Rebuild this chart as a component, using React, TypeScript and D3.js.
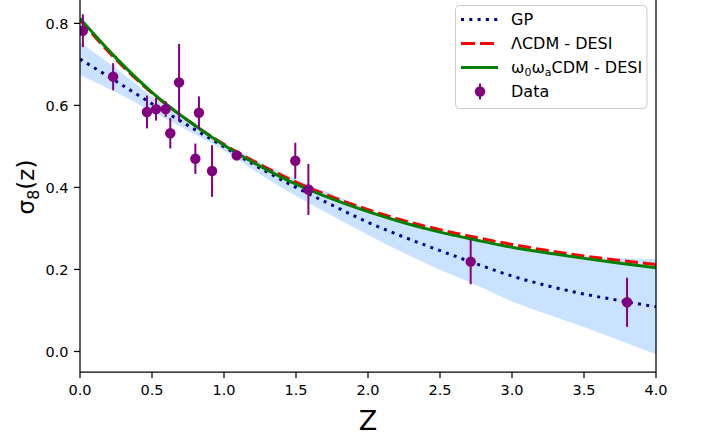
import React from "react";
import * as d3 from "d3";

const zGrid = [0, 0.25, 0.5, 0.75, 1.0, 1.25, 1.5, 1.75, 2.0, 2.25, 2.5, 2.75, 3.0, 3.25, 3.5, 3.75, 4.0];
const gpMean = [0.713, 0.659, 0.604, 0.551, 0.499, 0.447, 0.400, 0.357, 0.315, 0.279, 0.246, 0.214, 0.184, 0.160, 0.140, 0.124, 0.109];
const gpLower = [0.674, 0.632, 0.585, 0.538, 0.490, 0.432, 0.379, 0.331, 0.284, 0.240, 0.199, 0.162, 0.122, 0.090, 0.060, 0.027, -0.007];
const gpUpper = [0.754, 0.690, 0.622, 0.563, 0.508, 0.462, 0.420, 0.384, 0.347, 0.318, 0.294, 0.272, 0.254, 0.241, 0.233, 0.228, 0.225];
const lcdm = [0.808, 0.712, 0.630, 0.563, 0.505, 0.456, 0.413, 0.377, 0.346, 0.319, 0.297, 0.278, 0.261, 0.246, 0.233, 0.222, 0.212];
const w0wa = [0.812, 0.716, 0.632, 0.563, 0.503, 0.452, 0.408, 0.372, 0.341, 0.314, 0.291, 0.272, 0.254, 0.240, 0.227, 0.215, 0.204];

const dataZ = [0.02, 0.23, 0.465, 0.528, 0.595, 0.627, 0.688, 0.801, 0.826, 0.917, 1.088, 1.495, 1.586, 2.713, 3.799];
const dataS = [0.782, 0.670, 0.584, 0.591, 0.591, 0.532, 0.656, 0.470, 0.582, 0.440, 0.478, 0.465, 0.395, 0.219, 0.120];
const dataErr = [0.040, 0.033, 0.040, 0.028, 0.019, 0.037, 0.094, 0.037, 0.040, 0.063, 0.010, 0.044, 0.062, 0.055, 0.060];

const xTicks = [0, 0.5, 1.0, 1.5, 2.0, 2.5, 3.0, 3.5, 4.0];
const yTicks = [0.0, 0.2, 0.4, 0.6, 0.8];

const W = 704;
const H = 441;
const L = 80, R = 656, T = 0, B = 372;
const FONT = "DejaVu Sans, sans-serif";

export default function App() {
  const x = d3.scaleLinear().domain([0, 4]).range([L, R]);
  const y = d3.scaleLinear().domain([-0.05, 0.857]).range([B, T]);

  const lineOf = (vals: number[]) =>
    d3
      .line<number>()
      .x((_, i) => x(zGrid[i]))
      .y((v) => y(v))
      .curve(d3.curveMonotoneX)(vals) || "";

  const band =
    d3
      .area<number>()
      .x((_, i) => x(zGrid[i]))
      .y0((_, i) => y(gpLower[i]))
      .y1((_, i) => y(gpUpper[i]))
      .curve(d3.curveMonotoneX)(zGrid) || "";

  const legX0 = 461, legX1 = 498, legText = 511;
  const legRows = [19.5, 43.5, 67.5, 91.5];

  return (
    <svg width={W} height={H} style={{ position: "absolute", left: 0, top: 0, background: "#fff" }} fontFamily={FONT}>
      <defs>
        <clipPath id="plotclip">
          <rect x={L} y={T} width={R - L} height={B - T} />
        </clipPath>
      </defs>
      <g clipPath="url(#plotclip)">
        <path d={band} fill="rgb(200,226,255)" stroke="none" />
        <path d={lineOf(gpMean)} fill="none" stroke="#000080" strokeWidth={3} strokeDasharray="3 5.3" />
        <path d={lineOf(lcdm)} fill="none" stroke="#ff0000" strokeWidth={3} strokeDasharray="13 5" />
        <path d={lineOf(w0wa)} fill="none" stroke="#008000" strokeWidth={3} />
        {dataZ.map((z, i) => (
          <g key={i}>
            <line
              x1={x(z)}
              x2={x(z)}
              y1={y(dataS[i] - dataErr[i])}
              y2={y(dataS[i] + dataErr[i])}
              stroke="#800080"
              strokeWidth={2}
            />
            <circle cx={x(z)} cy={y(dataS[i])} r={5.2} fill="#800080" />
          </g>
        ))}
      </g>

      {/* spines */}
      <line x1={L} x2={L} y1={T} y2={B} stroke="#000" strokeWidth={1.25} />
      <line x1={R} x2={R} y1={T} y2={B} stroke="#000" strokeWidth={1.25} />
      <line x1={L} x2={R} y1={B} y2={B} stroke="#000" strokeWidth={1.25} />

      {/* x ticks */}
      {xTicks.map((t) => (
        <g key={"x" + t}>
          <line x1={x(t)} x2={x(t)} y1={B} y2={B + 6} stroke="#000" strokeWidth={1.25} />
          <text x={x(t)} y={395} fontSize={14.5} textAnchor="middle" fill="#000">
            {t.toFixed(1)}
          </text>
        </g>
      ))}
      {/* y ticks */}
      {yTicks.map((t) => (
        <g key={"y" + t}>
          <line x1={L - 6} x2={L} y1={y(t)} y2={y(t)} stroke="#000" strokeWidth={1.25} />
          <text x={68.5} y={y(t) + 5.3} fontSize={14.5} textAnchor="end" fill="#000">
            {t.toFixed(1)}
          </text>
        </g>
      ))}

      {/* axis labels */}
      <text x={(L + R) / 2} y={430} fontSize={27} textAnchor="middle" fill="#000">
        Z
      </text>
      <text transform={`translate(34,187) rotate(-90)`} fontSize={23} textAnchor="middle" fill="#000">
        σ<tspan fontSize={16} dy={5}>8</tspan>
        <tspan dy={-5}>(z)</tspan>
      </text>

      {/* legend */}
      <rect x={455.5} y={5.5} width={191.5} height={103} rx={4} fill="#fff" fillOpacity={0.85} stroke="#cccccc" strokeWidth={1} />
      <line x1={legX0} x2={legX1} y1={legRows[0]} y2={legRows[0]} stroke="#000080" strokeWidth={3} strokeDasharray="3 5.3" />
      <line x1={legX0} x2={legX1} y1={legRows[1]} y2={legRows[1]} stroke="#ff0000" strokeWidth={3} strokeDasharray="14 5" />
      <line x1={legX0} x2={legX1} y1={legRows[2]} y2={legRows[2]} stroke="#008000" strokeWidth={3} />
      <line x1={480} x2={480} y1={legRows[3] - 8} y2={legRows[3] + 8} stroke="#800080" strokeWidth={2} />
      <circle cx={480} cy={legRows[3]} r={5.2} fill="#800080" />

      <text x={legText} y={legRows[0] + 5.8} fontSize={16} fill="#000">GP</text>
      <text x={legText} y={legRows[1] + 5.8} fontSize={16} fill="#000">ΛCDM - DESI</text>
      <text x={legText} y={legRows[2] + 5.8} fontSize={16} fill="#000">
        ω<tspan fontSize={11} dy={3}>0</tspan>
        <tspan dy={-3}>ω</tspan>
        <tspan fontSize={11} dy={3}>a</tspan>
        <tspan dy={-3}>CDM - DESI</tspan>
      </text>
      <text x={legText} y={legRows[3] + 5.8} fontSize={16} fill="#000">Data</text>
    </svg>
  );
}
